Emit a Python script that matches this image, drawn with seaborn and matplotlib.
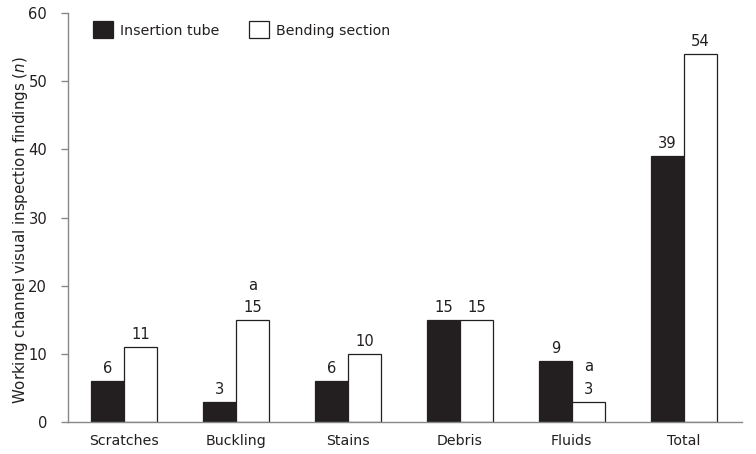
import matplotlib
matplotlib.use("Agg")
import matplotlib.pyplot as plt
import seaborn as sns
import pandas as pd

categories = ["Scratches", "Buckling", "Stains", "Debris", "Fluids", "Total"]
insertion_tube = [6, 3, 6, 15, 9, 39]
bending_section = [11, 15, 10, 15, 3, 54]
bending_marks = ["", "a", "", "", "a", ""]
series_names = ["Insertion tube", "Bending section"]

df = pd.DataFrame({
    "Category": categories * 2,
    "Series": [series_names[0]] * len(categories) + [series_names[1]] * len(categories),
    "Value": insertion_tube + bending_section,
})

sns.set_theme(style="white")
plt.rcParams["font.family"] = ["DejaVu Sans"]
FS = 10.2
FSN = 10.6
INK = "#231f20"

fig = plt.figure(figsize=(7.56, 4.54), dpi=100)
ax = fig.add_axes([68 / 756, 32 / 454, (742 - 68) / 756, (422 - 13) / 454])

sns.barplot(data=df, x="Category", y="Value", hue="Series", order=categories,
            hue_order=series_names,
            palette={series_names[0]: INK, series_names[1]: "white"},
            width=0.59, gap=0, edgecolor=INK, linewidth=0.9, ax=ax,
            saturation=1, legend=True)

for cont in ax.containers:
    ax.bar_label(cont, fmt="%d", padding=3.5, fontsize=FSN, color=INK)
ax.bar_label(ax.containers[1], labels=bending_marks, padding=19.5, fontsize=FSN, color=INK)

ax.set_xlim(-0.5, 5.52)
ax.set_ylim(0, 60)
ax.set_yticks(range(0, 61, 10))
ax.tick_params(axis="y", which="both", left=True, length=5, width=1, color="#888888",
               labelsize=FSN, labelcolor=INK, pad=10)
ax.tick_params(axis="x", bottom=False, length=0, labelsize=FS, labelcolor=INK, pad=8.5)
ax.set_xlabel("")
ax.set_ylabel(r"Working channel visual inspection findings ($\it{n}$)", fontsize=10.8,
              color=INK)
ax.yaxis.set_label_coords(-0.057, 0.468)
for side in ["top", "right"]:
    ax.spines[side].set_visible(False)
for side in ["left", "bottom"]:
    ax.spines[side].set_color("#888888")
    ax.spines[side].set_linewidth(1)

leg = ax.legend(loc="upper left", bbox_to_anchor=(0.024, 1.0), ncol=2, frameon=False,
                fontsize=FS, handlelength=1.45, handleheight=1.45, handletextpad=0.45,
                columnspacing=2.1, borderaxespad=0.2)
for t in leg.get_texts():
    t.set_color(INK)

fig.savefig("out.png", dpi=100)
